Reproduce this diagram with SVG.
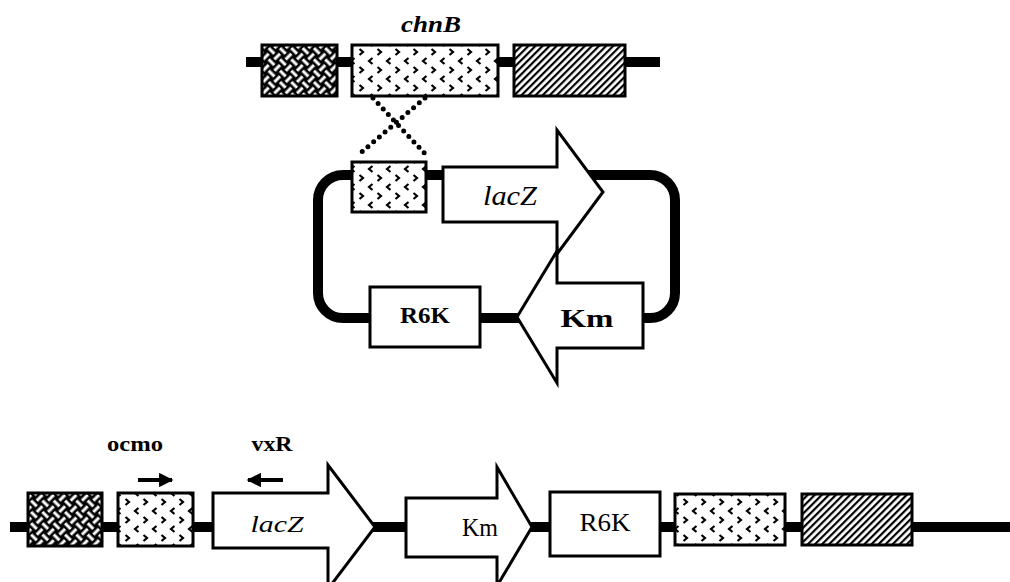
<svg xmlns="http://www.w3.org/2000/svg" width="1010" height="582" viewBox="0 0 1010 582">
<defs>
<pattern id="pHatch" width="5" height="5" patternUnits="userSpaceOnUse" patternTransform="rotate(45)">
<rect width="5" height="5" fill="#fff"/>
<rect width="2.2" height="5" fill="#000"/>
</pattern>
<pattern id="pDots" width="18" height="18" patternUnits="userSpaceOnUse" x="6" y="3">
<rect width="18" height="18" fill="#fff"/>
<path d="M6.5 1 L3 4 L6.5 7 M11.5 10 L15 13 L11.5 16" fill="none" stroke="#000" stroke-width="2.2"/>
</pattern>
<pattern id="pWeave" width="16" height="16" patternUnits="userSpaceOnUse" patternTransform="rotate(45)">
<rect width="16" height="16" fill="#000"/>
<rect x="0" y="2.5" width="8" height="3" fill="#fff"/>
<rect x="8" y="10.5" width="8" height="3" fill="#fff"/>
<rect x="10.5" y="0" width="3" height="8" fill="#fff"/>
<rect x="2.5" y="8" width="3" height="8" fill="#fff"/>
</pattern>
<marker id="mArrow" viewBox="0 0 10 10" refX="9" refY="5" markerWidth="4.5" markerHeight="3.6" orient="auto" markerUnits="strokeWidth">
<path d="M0 0 L10 5 L0 10 Z" fill="#000"/>
</marker>
</defs>
<style>
.dna{stroke:#000;stroke-width:10;fill:none}
.box{stroke:#000;stroke-width:3}
.arr{fill:#fff;stroke:#000;stroke-width:3;stroke-linejoin:miter}
.cross{stroke:#000;stroke-width:5;stroke-dasharray:0 7.5;stroke-linecap:round;fill:none}
.primer{stroke:#000;stroke-width:4;fill:none}
.t{font-family:"Liberation Serif",serif;fill:#000}
.bi{font-weight:bold;font-style:italic}
.b{font-weight:bold}
.i{font-style:italic}
</style>
<g id="connectors">
<line class="dna" x1="246" y1="62" x2="660" y2="62"/>
<rect class="dna" x="318" y="175" width="357" height="143" rx="25"/>
<line class="dna" x1="10" y1="527" x2="1010" y2="527"/>
<line class="cross" x1="373" y1="98" x2="428" y2="157"/>
<line class="cross" x1="425" y1="98" x2="357" y2="156"/>
<line class="primer" x1="138" y1="480" x2="172" y2="480" marker-end="url(#mArrow)"/>
<line class="primer" x1="283" y1="480" x2="248" y2="480" marker-end="url(#mArrow)"/>
</g>
<g id="chromosome-top">
<rect class="box" x="262" y="45" width="75" height="51" fill="url(#pWeave)"/>
<rect class="box" x="352" y="45" width="146" height="51" fill="url(#pDots)"/>
<rect class="box" x="514" y="45" width="111" height="51" fill="url(#pHatch)"/>
<text class="t bi" x="431" y="32" font-size="23" text-anchor="middle" textLength="60" lengthAdjust="spacingAndGlyphs">chnB</text>
</g>
<g id="plasmid">
<rect class="box" x="352" y="162" width="74" height="50" fill="url(#pDots)"/>
<path class="arr" d="M443 167 H557 V130 L603 192 L557 254 V222 H443 Z"/>
<path class="arr" d="M643 283 H557 V251 L517 317 L557 383 V348 H643 Z"/>
<rect class="box" x="370" y="287" width="110" height="60" fill="#fff"/>
<text class="t i" x="510" y="205" font-size="27" text-anchor="middle" textLength="54" lengthAdjust="spacingAndGlyphs">lacZ</text>
<text class="t b" x="587" y="327" font-size="26" text-anchor="middle" textLength="53" lengthAdjust="spacingAndGlyphs">Km</text>
<text class="t b" x="425" y="323" font-size="23" text-anchor="middle" textLength="50" lengthAdjust="spacingAndGlyphs">R6K</text>
</g>
<g id="chromosome-bottom">
<rect class="box" x="28" y="493" width="74" height="53" fill="url(#pWeave)"/>
<rect class="box" x="118" y="493" width="75" height="53" fill="url(#pDots)"/>
<path class="arr" d="M213 493 H328 V465 L375 527 L328 589 V548 H213 Z"/>
<path class="arr" d="M406 498 H497 V467 L532 527 L497 586 V557 H406 Z"/>
<rect class="box" x="550" y="492" width="110" height="64" fill="#fff"/>
<rect class="box" x="675" y="494" width="110" height="51" fill="url(#pDots)"/>
<rect class="box" x="802" y="494" width="110" height="51" fill="url(#pHatch)"/>
<text class="t i" x="277" y="532" font-size="23" text-anchor="middle" textLength="53" lengthAdjust="spacingAndGlyphs">lacZ</text>
<text class="t" x="480" y="536" font-size="26" text-anchor="middle" textLength="36" lengthAdjust="spacingAndGlyphs">Km</text>
<text class="t" x="605" y="531" font-size="25" text-anchor="middle" textLength="51" lengthAdjust="spacingAndGlyphs">R6K</text>
<text class="t b" x="135" y="451" font-size="22" text-anchor="middle" textLength="56" lengthAdjust="spacingAndGlyphs">ocmo</text>
<text class="t b" x="272" y="451" font-size="22" text-anchor="middle" textLength="41" lengthAdjust="spacingAndGlyphs">vxR</text>
</g>
</svg>
